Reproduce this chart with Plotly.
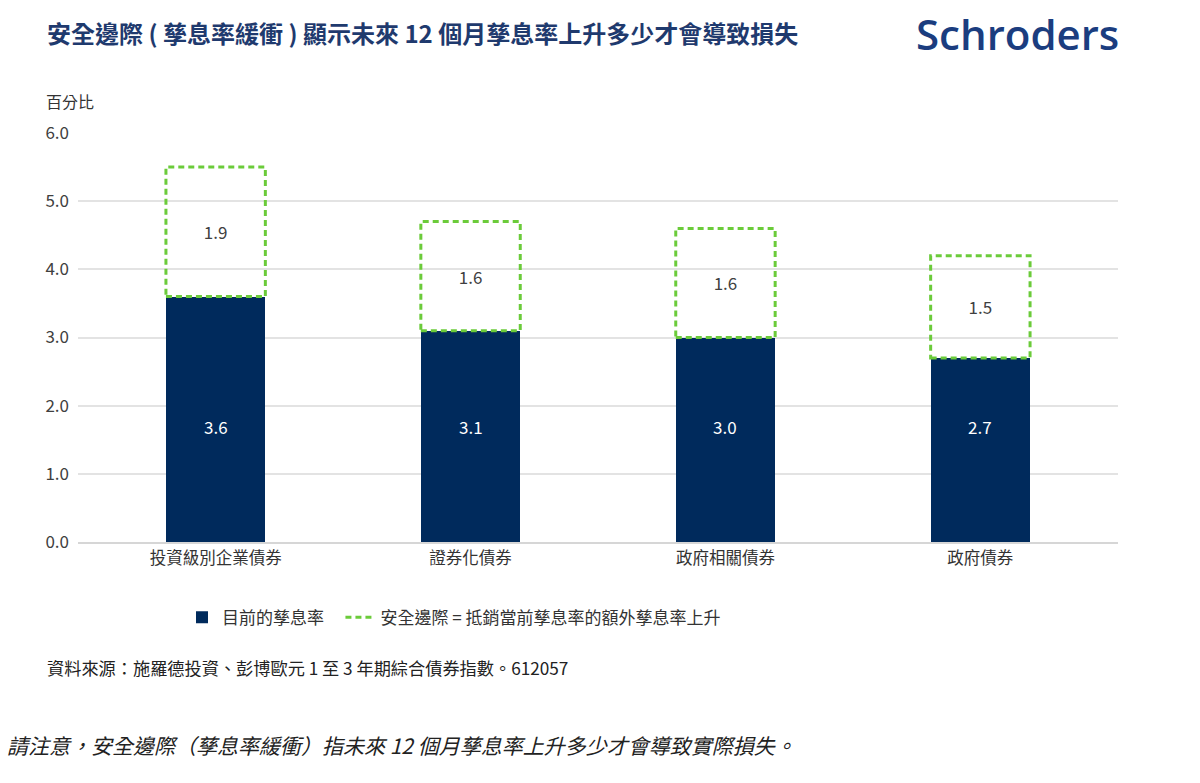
import plotly.graph_objects as go

categories = ["投資級別企業債券", "證券化債券", "政府相關債券", "政府債券"]
current_yield = [3.6, 3.1, 3.0, 2.7]
safety_margin = [1.9, 1.6, 1.6, 1.5]
y_ticks = [0, 1, 2, 3, 4, 5, 6]

NAVY = "#002A5C"
GREEN = "#6BCB3A"
FONT = "Noto Sans CJK TC"
BAR_W = 0.39
DASH = "6px,4px"
INNER_LABEL_Y = 1.7

fig = go.Figure()
fig.add_trace(go.Bar(
    x=categories, y=current_yield, width=BAR_W,
    marker=dict(color=NAVY, line=dict(width=0)),
    name="目前的孳息率\u00a0\u00a0\u00a0", showlegend=True,
))
fig.add_trace(go.Bar(
    x=categories, y=safety_margin, width=BAR_W,
    marker=dict(color="rgba(255,255,255,0)", line=dict(width=0)),
    text=[f"{v:.1f}" for v in safety_margin], textposition="inside",
    insidetextanchor="middle", textfont=dict(color="#404040", size=17, family=FONT),
    showlegend=False, name="safety",
))
fig.add_trace(go.Scatter(
    x=[None], y=[None], mode="lines",
    line=dict(color=GREEN, width=3, dash=DASH),
    name="安全邊際 = 抵銷當前孳息率的額外孳息率上升", showlegend=True,
))

for i, (b, m) in enumerate(zip(current_yield, safety_margin)):
    fig.add_shape(type="rect", xref="x", yref="y",
                  x0=i - BAR_W / 2, x1=i + BAR_W / 2, y0=b, y1=b + m,
                  line=dict(color=GREEN, width=3, dash=DASH),
                  fillcolor="rgba(0,0,0,0)", layer="above")
    fig.add_annotation(x=categories[i], y=INNER_LABEL_Y, xref="x", yref="y",
                       text=f"{b:.1f}", showarrow=False,
                       font=dict(color="white", size=17, family=FONT))

fig.update_layout(
    barmode="stack",
    width=1200, height=783,
    margin=dict(l=78, r=82, t=133, b=241),
    paper_bgcolor="white", plot_bgcolor="white",
    font=dict(family=FONT, color="#333333"),
    xaxis=dict(range=[-0.54, 3.54], showgrid=False, showline=True,
               linecolor="#D6D6D6", linewidth=2,
               tickfont=dict(size=16.5, color="#333333", family=FONT),
               ticks=""),
    yaxis=dict(range=[0, 6], tickvals=y_ticks,
               ticktext=[f"{v:.1f}" for v in y_ticks],
               showgrid=True, gridcolor="#E3E3E3", gridwidth=2,
               zeroline=False, showline=False,
               tickfont=dict(size=17, color="#404040", family=FONT),
               ticks="", ticklabelstandoff=8),
    legend=dict(orientation="h", x=0.1, y=-0.185, xanchor="left", yanchor="middle",
                font=dict(size=17, color="#333333", family=FONT),
                itemwidth=30, traceorder="normal", bgcolor="rgba(0,0,0,0)"),
    showlegend=True,
)

fig.add_annotation(text="<b>安全邊際 ( 孳息率緩衝 ) 顯示未來 12 個月孳息率上升多少才會導致損失</b>",
                   xref="paper", yref="paper", x=-0.032, y=1.0, xanchor="left", yanchor="middle",
                   yshift=133 - 32, showarrow=False,
                   font=dict(size=24, color="#1F3A6E", family=FONT))
fig.add_annotation(text="Schroders", xref="paper", yref="paper",
                   x=1.003, y=1.0, xanchor="right", yanchor="middle", yshift=133 - 33,
                   showarrow=False,
                   font=dict(size=42, color="#1B3D7F", family="Open Sans", weight=600))
fig.add_annotation(text="百分比", xref="paper", yref="paper", x=-0.033, y=1.0,
                   xanchor="left", yanchor="middle", yshift=133 - 101, showarrow=False,
                   font=dict(size=16, color="#333333", family=FONT))
fig.add_annotation(text="資料來源：施羅德投資、彭博歐元 1 至 3 年期綜合債券指數。612057",
                   xref="paper", yref="paper", x=-0.032, y=0.0, xanchor="left", yanchor="middle",
                   yshift=542 - 667, showarrow=False,
                   font=dict(size=17.2, color="#222222", family=FONT))
fig.add_annotation(text="<i>請注意，安全邊際（孳息率緩衝）指未來 12 個月孳息率上升多少才會導致實際損失。</i>",
                   xref="paper", yref="paper", x=-0.07, y=0.0, xanchor="left", yanchor="middle",
                   yshift=542 - 745, showarrow=False,
                   font=dict(size=21, color="#222222", family=FONT))

fig.write_html("out.html")
